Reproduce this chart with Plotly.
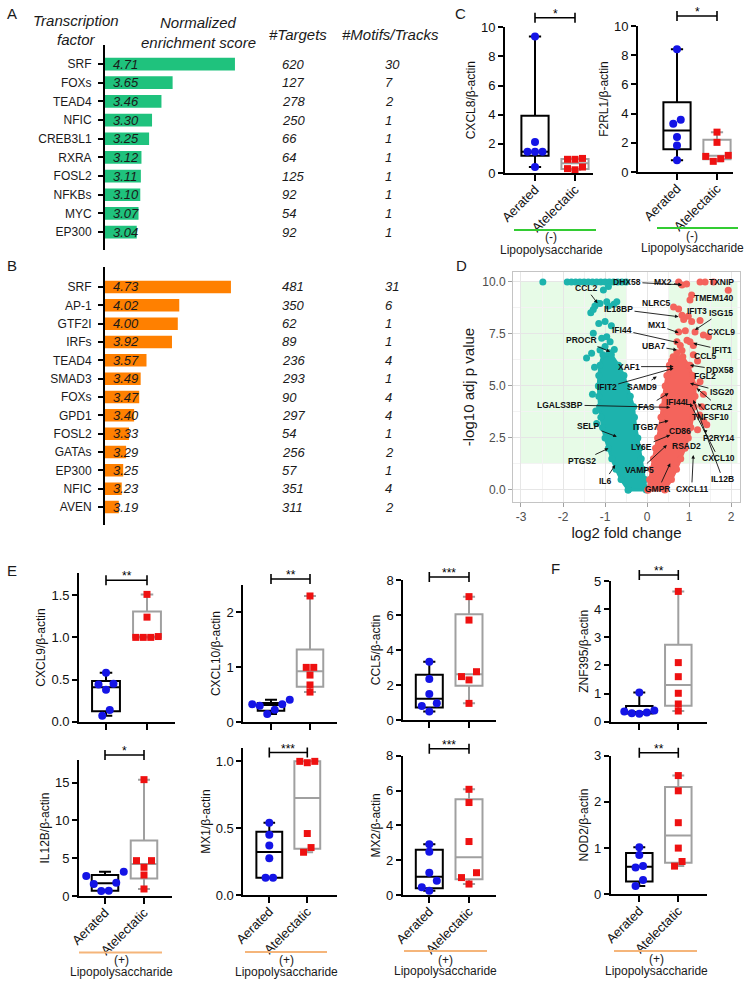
import plotly.graph_objects as go

W, H = 750, 982
FONT = "Arial, 'Liberation Sans', Helvetica, sans-serif"

# ---------------- Panel A / B data ----------------
A_TF = ["SRF", "FOXs", "TEAD4", "NFIC", "CREB3L1", "RXRA", "FOSL2", "NFKBs", "MYC", "EP300"]
A_NES = [4.71, 3.65, 3.46, 3.30, 3.25, 3.12, 3.11, 3.10, 3.07, 3.04]
A_TARGETS = [620, 127, 278, 250, 66, 64, 125, 92, 54, 92]
A_MOTIFS = [30, 7, 2, 1, 1, 1, 1, 1, 1, 1]

B_TF = ["SRF", "AP-1", "GTF2I", "IRFs", "TEAD4", "SMAD3", "FOXs", "GPD1", "FOSL2", "GATAs", "EP300", "NFIC", "AVEN"]
B_NES = [4.73, 4.02, 4.00, 3.92, 3.57, 3.49, 3.47, 3.40, 3.33, 3.29, 3.25, 3.23, 3.19]
B_TARGETS = [481, 350, 62, 89, 236, 293, 90, 297, 54, 256, 57, 351, 311]
B_MOTIFS = [31, 6, 1, 1, 4, 1, 4, 4, 1, 2, 1, 4, 2]

# ---------------- qPCR data (Aerated / Atelectatic) ----------------
GROUPS = ["Aerated", "Atelectatic"]
CXCL8_AER = [9.36, 2.13, 1.45, 1.45, 1.45, 0.41]
CXCL8_ATE = [1.00, 0.94, 0.94, 0.41, 0.30, 0.22]
F2RL1_AER = [8.40, 3.58, 3.30, 2.39, 1.82, 0.80]
F2RL1_ATE = [2.73, 2.03, 1.14, 1.07, 0.91, 0.73]
CXCL9_AER = [0.58, 0.45, 0.44, 0.38, 0.14, 0.07]
CXCL9_ATE = [1.51, 1.24, 1.01, 1.00, 1.00, 1.00]
CXCL10_AER = [0.41, 0.33, 0.33, 0.30, 0.23, 0.15]
CXCL10_ATE = [2.30, 1.00, 1.00, 0.86, 0.68, 0.55]
CCL5_AER = [3.33, 2.34, 1.49, 0.95, 0.80, 0.48]
CCL5_ATE = [7.05, 5.71, 2.76, 2.48, 2.29, 0.95]
ZNF395_AER = [1.04, 0.40, 0.36, 0.33, 0.30, 0.28]
ZNF395_ATE = [4.63, 2.10, 1.60, 1.01, 0.63, 0.38]
IL12B_AER = [3.20, 2.65, 1.77, 1.60, 0.71, 0.66]
IL12B_ATE = [15.4, 4.68, 4.68, 3.80, 2.78, 0.93]
MX1_AER = [0.54, 0.45, 0.37, 0.275, 0.13, 0.13]
MX1_ATE = [1.00, 1.00, 0.99, 0.46, 0.355, 0.32]
MX2_AER = [2.91, 2.49, 1.28, 0.82, 0.44, 0.25]
MX2_ATE = [6.07, 5.31, 3.07, 1.28, 1.00, 0.63]
NOD2_AER = [1.02, 0.85, 0.61, 0.58, 0.31, 0.18]
NOD2_ATE = [2.57, 2.24, 1.55, 1.00, 0.71, 0.61]

# ---------------- Volcano data ----------------
CYAN_BAND_Y = [0.0, 0.5, 1.0, 1.5, 2.0, 2.5, 3.0, 3.5, 4.0, 4.5, 5.0, 5.5, 6.0, 6.5]
CYAN_BAND_XMIN = [-0.45, -0.62, -0.74, -0.84, -0.92, -1.0, -1.06, -1.1, -1.13, -1.15, -1.16, -1.15, -1.12, -1.05]
CYAN_BAND_XMAX = [-0.02, -0.05, -0.10, -0.14, -0.18, -0.22, -0.27, -0.30, -0.32, -0.40, -0.48, -0.55, -0.68, -0.85]
RED_BAND_Y = [0.0, 0.5, 1.0, 1.5, 2.0, 2.5, 3.0, 3.5, 4.0, 4.5, 5.0, 5.5, 6.0, 6.4]
RED_BAND_XMIN = [0.02, 0.06, 0.10, 0.15, 0.20, 0.25, 0.30, 0.33, 0.36, 0.40, 0.43, 0.47, 0.53, 0.62]
RED_BAND_XMAX = [0.42, 0.58, 0.70, 0.80, 0.90, 0.98, 1.04, 1.08, 1.12, 1.14, 1.14, 1.08, 0.98, 0.85]
CYAN_SCATTER = [(-2.48, 10), (-1.9, 10), (-1.8, 10), (-1.7, 10), (-1.6, 10), (-1.5, 10), (-1.4, 10),
                (-1.3, 10), (-1.2, 10), (-1.1, 10), (-1.0, 10), (-0.9, 10), (-0.8, 10), (-0.7, 10),
                (-0.6, 10), (-0.5, 10),
                (-1.04, 9.62), (-0.92, 9.78), (-1.34, 8.52), (-1.28, 8.68), (-1.24, 8.85), (-1.18, 8.98),
                (-1.12, 8.97), (-0.96, 9.05), (-0.92, 8.85), (-0.79, 8.93), (-0.72, 9.05),
                (-1.15, 8.0), (-1.0, 8.1), (-0.85, 7.9), (-1.28, 7.53), (-1.08, 7.29), (-0.96, 7.37),
                (-0.88, 7.13), (-1.32, 6.57), (-1.44, 6.34), (-1.12, 6.73), (-1.0, 6.9), (-0.9, 6.6),
                (-0.78, 6.75), (-1.25, 5.9), (-1.3, 4.6), (-1.22, 3.8), (-1.2, 3.2)]
RED_SCATTER = [(0.75, 10.0), (0.83, 9.86), (0.94, 9.9), (1.26, 10.0), (1.38, 10.0), (1.58, 10.0), (1.93, 9.6),
               (1.06, 9.37), (1.02, 9.13), (0.63, 8.8), (0.75, 8.7), (0.83, 8.4), (0.98, 8.35), (0.87, 8.2),
               (1.06, 8.1), (1.26, 8.15), (0.75, 7.6), (0.91, 7.65), (1.14, 7.6), (1.34, 7.45), (1.46, 7.37),
               (0.71, 7.13), (0.79, 6.95), (0.95, 7.2), (1.02, 7.13), (1.1, 6.95), (0.71, 6.6), (0.83, 6.7),
               (1.1, 6.5), (0.58, 6.2), (0.67, 6.1), (0.79, 6.3), (1.02, 6.0), (1.2, 6.2), (1.26, 5.2),
               (1.34, 4.6), (1.3, 4.0), (1.42, 3.13), (1.35, 3.3), (1.25, 3.6), (1.2, 2.9)]
# label, text x, text y, arrow target x, arrow target y
VOLCANO_LABELS = [
    ("DHX58", -0.48, 10.0, 0.83, 9.86), ("MX2", 0.39, 10.0, 0.83, 9.86), ("TXNIP", 1.76, 10.0, None, None),
    ("CCL2", -1.45, 9.70, -1.18, 8.98), ("TMEM140", 1.58, 9.21, None, None),
    ("IL18BP", -0.68, 8.69, 0.75, 8.33), ("NLRC5", 0.23, 9.01, 0.63, 8.81), ("IFIT3", 1.18, 8.62, None, None),
    ("ISG15", 1.76, 8.53, 1.14, 7.69), ("MX1", 0.23, 7.93, 0.75, 7.56), ("CXCL9", 1.76, 7.61, None, None),
    ("IFI44", -0.6, 7.69, 0.75, 7.08), ("PROCR", -1.56, 7.21, -0.88, 6.65), ("UBA7", 0.15, 6.92, 0.71, 6.73),
    ("IFIT1", 1.78, 6.73, 1.1, 7.05), ("CCL5", 1.38, 6.44, None, None), ("XAF1", -0.44, 5.93, 0.63, 5.93),
    ("DDX58", 1.74, 5.77, 1.02, 6.0), ("FGL2", 1.38, 5.48, None, None), ("IFIT2", -0.96, 4.94, 0.63, 5.85),
    ("SAMD9", -0.13, 4.97, 0.23, 5.45), ("ISG20", 1.78, 4.73, 1.02, 5.13),
    ("LGALS3BP", -2.07, 4.09, 0.55, 3.97), ("FAS", -0.01, 4.01, 0.51, 4.65), ("IFI44L", 0.75, 4.25, None, None),
    ("CCRL2", 1.7, 4.0, 1.18, 4.89), ("TNFSF10", 1.5, 3.53, 1.21, 4.17), ("ITGB7", -0.05, 3.04, 0.51, 3.33),
    ("CD86", 0.79, 2.85, None, None), ("P2RY14", 1.7, 2.48, 1.34, 2.88), ("LY6E", -0.13, 2.08, 0.55, 2.64),
    ("RSAD2", 0.94, 2.12, None, None), ("SELP", -1.4, 3.08, -0.72, 2.56), ("CXCL10", 1.7, 1.52, 1.02, 4.17),
    ("PTGS2", -1.56, 1.39, -0.92, 2.0), ("VAMP5", -0.17, 0.96, 0.47, 2.16), ("IL6", -1.0, 0.45, -0.76, 1.2),
    ("IL12B", 1.8, 0.51, 1.1, 4.33), ("GMPR", 0.27, 0.05, 0.55, 1.28), ("CXCL11", 1.06, 0.05, 1.1, 1.68),
]

# ---------------- styles ----------------
GREEN_BAR = "#1fc27d"
ORANGE_BAR = "#ff8000"
BLUE = "#1414e6"
RED = "#ee1111"
GRAYBOX = "#a0a0a0"
CYAN = "#1db3ad"
SALMON = "#f4645c"
LPS_GREEN = "#33cc33"
LPS_ORANGE = "#f5b57a"


def X(px):
    return px / W


def Y(py):
    return 1 - py / H


fig = go.Figure()
ann = []
shp = []
lay = dict(width=W, height=H, margin=dict(l=0, r=0, t=0, b=0), template="none",
           paper_bgcolor="white", plot_bgcolor="white", showlegend=False,
           font=dict(family=FONT, size=12, color="#1a1a1a"))


def add_text(px, py, text, size=12, xanchor="center", yanchor="middle", color="#1a1a1a"):
    ann.append(dict(x=X(px), y=Y(py), xref="paper", yref="paper", text=text, showarrow=False,
                    xanchor=xanchor, yanchor=yanchor, font=dict(size=size, color=color, family=FONT)))


# ---------------- Panels A and B ----------------
def bar_panel(k, tfs, nes, targets, motifs, color, x0, ppu, top_py, bot_py, yrange):
    xs = "x" if k == 1 else f"x{k}"
    ys = "y" if k == 1 else f"y{k}"
    fig.add_trace(go.Bar(x=nes, y=tfs, orientation="h", marker=dict(color=color, line=dict(width=0)),
                         width=0.68, xaxis=xs, yaxis=ys, hoverinfo="skip"))
    lay["xaxis" if k == 1 else f"xaxis{k}"] = dict(domain=[X(105), X(265)], range=[x0, x0 + 160 / ppu],
                                                   anchor=ys, visible=False)
    lay["yaxis" if k == 1 else f"yaxis{k}"] = dict(
        domain=[Y(bot_py), Y(top_py)], anchor=xs, type="category", categoryarray=tfs, range=yrange,
        showline=True, linecolor="black", linewidth=2, ticks="outside", ticklen=5, tickwidth=1.5,
        tickcolor="black", tickfont=dict(size=12, color="#1a1a1a"), showgrid=False, zeroline=False,
        ticklabelstandoff=4)
    for tf, v, t, m in zip(tfs, nes, targets, motifs):
        ann.append(dict(x=x0, y=tf, xref=xs, yref=ys, text=f"<i>{v:.2f}</i>", showarrow=False,
                        xanchor="left", xshift=6, font=dict(size=13, color="#1a1a1a")))
        ann.append(dict(x=X(280), y=tf, xref="paper", yref=ys, text=f"<i>{t}</i>", showarrow=False,
                        xanchor="left", font=dict(size=13, color="#1a1a1a")))
        ann.append(dict(x=X(383), y=tf, xref="paper", yref=ys, text=f"<i>{m}</i>", showarrow=False,
                        xanchor="left", font=dict(size=13, color="#1a1a1a")))


bar_panel(1, A_TF, A_NES, A_TARGETS, A_MOTIFS, GREEN_BAR, 2.5, 58.8, 45, 250, [len(A_TF) - 0.04, -1.02])
bar_panel(2, B_TF, B_NES, B_TARGETS, B_MOTIFS, ORANGE_BAR, 3.0, 72.8, 267, 525, [len(B_TF) - 0.02, -1.09])

add_text(76, 21, "<i>Transcription</i>", 15)
add_text(76, 40, "<i>factor</i>", 15)
add_text(198, 23, "<i>Normalized</i>", 15)
add_text(198, 42, "<i>enrichment score</i>", 15)
add_text(298, 35, "<i>#Targets</i>", 15)
add_text(390, 35, "<i>#Motifs/Tracks</i>", 15)

for letter, px, py in [("A", 5, 13), ("B", 5, 266), ("C", 453, 13), ("D", 454, 265), ("E", 5, 570), ("F", 549, 568)]:
    add_text(px, py, letter, 15, xanchor="left")

# ---------------- Panel D: volcano ----------------
for xs_, ys_ in [(-3.0, -0.5), (0.5, 2.15)]:
    shp.append(dict(type="rect", xref="x3", yref="y3", x0=xs_, x1=ys_, y0=1.3, y1=10.0,
                    fillcolor="rgba(144,238,144,0.22)", line=dict(width=0), layer="below"))

for yy, xmin, xmax, col in [(CYAN_BAND_Y, CYAN_BAND_XMIN, CYAN_BAND_XMAX, CYAN),
                            (RED_BAND_Y, RED_BAND_XMIN, RED_BAND_XMAX, SALMON)]:
    px_ = list(xmin) + list(reversed(xmax)) + [xmin[0]]
    py_ = list(yy) + list(reversed(yy)) + [yy[0]]
    fig.add_trace(go.Scatter(x=px_, y=py_, fill="toself", fillcolor=col, mode="lines+markers",
                             line=dict(color=col, width=3), marker=dict(size=7, color=col),
                             xaxis="x3", yaxis="y3", hoverinfo="skip"))
for pts, col in [(CYAN_SCATTER, CYAN), (RED_SCATTER, SALMON)]:
    fig.add_trace(go.Scatter(x=[p[0] for p in pts], y=[p[1] for p in pts], mode="markers",
                             marker=dict(size=7, color=col), xaxis="x3", yaxis="y3", hoverinfo="skip",
                             cliponaxis=False))

for lab, tx, ty, ax_, ay_ in VOLCANO_LABELS:
    if ax_ is None:
        ann.append(dict(x=tx, y=ty, xref="x3", yref="y3", text=f"<b>{lab}</b>", showarrow=False,
                        font=dict(size=8.5, color="#111")))
    else:
        ann.append(dict(x=ax_, y=ay_, xref="x3", yref="y3", ax=tx, ay=ty, axref="x3", ayref="y3",
                        text=f"<b>{lab}</b>", showarrow=True, arrowhead=2, arrowsize=0.8, arrowwidth=0.9,
                        arrowcolor="#111", standoff=0, font=dict(size=8.5, color="#111")))

VX = [-3, -2, -1, 0, 1, 2]
VY = [0, 2.5, 5, 7.5, 10]
lay["xaxis3"] = dict(domain=[X(513), X(740)], range=[-3.19, 2.21], anchor="y3", showline=True, mirror=True,
                     linecolor="#c4c4c4", linewidth=1, showgrid=True, gridcolor="#e6e6e6", gridwidth=1,
                     minor=dict(showgrid=True, gridcolor="#f3f3f3", dtick=0.5, tick0=0),
                     tickvals=VX, ticktext=[f"{v:g}" for v in VX], ticks="outside", ticklen=4,
                     tickcolor="#a0a0a0", tickfont=dict(size=12, color="#4d4d4d"), zeroline=False,
                     title=dict(text="log2 fold change", font=dict(size=15, color="#1a1a1a"), standoff=3))
lay["yaxis3"] = dict(domain=[Y(502), Y(272)], range=[-0.58, 10.48], anchor="x3", showline=True, mirror=True,
                     linecolor="#c4c4c4", linewidth=1, showgrid=True, gridcolor="#e6e6e6", gridwidth=1,
                     minor=dict(showgrid=True, gridcolor="#f3f3f3", dtick=1.25, tick0=0),
                     tickvals=VY, ticktext=[f"{v:.1f}" for v in VY], ticks="outside", ticklen=4,
                     tickcolor="#a0a0a0", tickfont=dict(size=12, color="#4d4d4d"), zeroline=False,
                     title=dict(text="-log10 adj p value", font=dict(size=15, color="#1a1a1a"), standoff=3))


# ---------------- Box plots (C, E, F) ----------------
def qstats(vals):
    s = sorted(vals)
    n = len(s)

    def q(p):
        pos = (n + 1) * p
        lo = int(pos)
        fr = pos - lo
        if lo < 1:
            return s[0]
        if lo >= n:
            return s[-1]
        return s[lo - 1] + fr * (s[lo] - s[lo - 1])

    return s[0], q(0.25), q(0.5), q(0.75), s[-1]


def swarm(vals, yppu, xppu, gap_px=7.0, spread_px=7.5):
    idx = sorted(range(len(vals)), key=lambda i: vals[i])
    clusters = [[idx[0]]]
    for i in idx[1:]:
        if (vals[i] - vals[clusters[-1][-1]]) * yppu < gap_px:
            clusters[-1].append(i)
        else:
            clusters.append([i])
    offs = [0.0] * len(vals)
    for c in clusters:
        n = len(c)
        slots = sorted([k - (n - 1) / 2 for k in range(n)], key=lambda s: (abs(s), s))
        for i, s in zip(c, slots):
            offs[i] = s * spread_px / xppu
    return offs


# geometry: x_left, x_right, y_top, y_bottom, x_aerated, x_atelectatic (px)
BOX_PANELS = [
    dict(lbl="CXCL8/β-actin", aer=CXCL8_AER, ate=CXCL8_ATE, sig="*", top=10, dt=2, fmt="d",
         g=(505, 593, 27.3, 173, 535, 575), xl=True, br=9.5),
    dict(lbl="F2RL1/β-actin", aer=F2RL1_AER, ate=F2RL1_ATE, sig="*", top=10, dt=2, fmt="d",
         g=(638, 733, 26, 172, 677, 717), xl=True, br=10),
    dict(lbl="CXCL9/β-actin", aer=CXCL9_AER, ate=CXCL9_ATE, sig="**", top=1.76, dt=0.5, fmt=".1f",
         g=(79, 175, 573.3, 721.7, 106, 147), xl=False, br=-7),
    dict(lbl="CXCL10/β-actin", aer=CXCL10_AER, ate=CXCL10_ATE, sig="**", top=2.5, dt=1, fmt="d",
         g=(243.3, 336.7, 585, 722.3, 271, 310), xl=False, br=6),
    dict(lbl="CCL5/β-actin", aer=CCL5_AER, ate=CCL5_ATE, sig="***", top=8, dt=2, fmt="d",
         g=(403.3, 496, 580, 720, 429.3, 469), xl=False, br=3),
    dict(lbl="ZNF395/β-actin", aer=ZNF395_AER, ate=ZNF395_ATE, sig="**", top=5, dt=1, fmt="d",
         g=(610.7, 706.7, 581, 721.7, 639.3, 678.3), xl=False, br=6),
    dict(lbl="IL12B/β-actin", aer=IL12B_AER, ate=IL12B_ATE, sig="*", top=18, dt=5, fmt="d",
         g=(79, 171.7, 760, 896, 105, 144), xl=True, br=5),
    dict(lbl="MX1/β-actin", aer=MX1_AER, ate=MX1_ATE, sig="***", top=1.1, dt=0.5, fmt=".1f",
         g=(243.3, 336.7, 748, 895, 269.3, 307.3), xl=True, br=-4.5),
    dict(lbl="MX2/β-actin", aer=MX2_AER, ate=MX2_ATE, sig="***", top=8, dt=2, fmt="d",
         g=(402.7, 496, 755.7, 895, 429.3, 469), xl=True, br=7),
    dict(lbl="NOD2/β-actin", aer=NOD2_AER, ate=NOD2_ATE, sig="**", top=3, dt=1, fmt="d",
         g=(610.7, 706.7, 755.7, 894.3, 639.3, 678.3), xl=True, br=3),
]

for n, p in enumerate(BOX_PANELS, start=4):
    xl, xr, yt, yb, pA, pB = p["g"]
    unit = pB - pA
    yppu = (yb - yt) / p["top"]
    xa, ya = f"x{n}", f"y{n}"
    lay[f"xaxis{n}"] = dict(domain=[X(xl), X(xr)], range=[(xl - pA) / unit, (xr - pA) / unit], anchor=ya,
                            showline=True, linecolor="black", linewidth=1.8, ticks="outside", ticklen=6,
                            tickwidth=1.8, tickcolor="black", tickvals=[0, 1],
                            ticktext=GROUPS if p["xl"] else ["", ""], tickangle=-45,
                            ticklabelstandoff=-4,
                            tickfont=dict(size=13, color="#111"), showgrid=False, zeroline=False)
    lay[f"yaxis{n}"] = dict(domain=[Y(yb), Y(yt)], range=[0, p["top"]], anchor=xa, showline=True,
                            linecolor="black", linewidth=1.8, ticks="outside", ticklen=5, tickwidth=1.8,
                            tickcolor="black", dtick=p["dt"], tick0=0, tickformat=p["fmt"],
                            tickfont=dict(size=13, color="#111"), showgrid=False, zeroline=False,
                            title=dict(text=p["lbl"], font=dict(size=12, color="#111"), standoff=3))
    for gi, (vals, col) in enumerate([(p["aer"], "black"), (p["ate"], GRAYBOX)]):
        lo, q1, med, q3, hi = qstats(vals)
        fig.add_trace(go.Box(x=[gi], q1=[q1], median=[med], q3=[q3], lowerfence=[lo], upperfence=[hi],
                             width=0.68, whiskerwidth=0.45, line=dict(color=col, width=2),
                             fillcolor="rgba(0,0,0,0)", boxpoints=False, xaxis=xa, yaxis=ya, hoverinfo="skip"))
    for gi, (vals, sym, size, col) in enumerate([(p["aer"], "circle", 8, BLUE), (p["ate"], "square", 7, RED)]):
        offs = swarm(vals, yppu, unit)
        fig.add_trace(go.Scatter(x=[gi + o for o in offs], y=vals, mode="markers",
                                 marker=dict(symbol=sym, size=size, color=col, line=dict(width=0)),
                                 xaxis=xa, yaxis=ya, cliponaxis=False, hoverinfo="skip"))
    hpx = yb - yt
    yb_dom = 1 + p["br"] / hpx
    d = 5 / hpx
    ydr = f"y{n} domain"
    shp.append(dict(type="line", xref=xa, yref=ydr, x0=0, x1=1, y0=yb_dom, y1=yb_dom,
                    line=dict(color="black", width=1.6)))
    for xx in (0, 1):
        shp.append(dict(type="line", xref=xa, yref=ydr, x0=xx, x1=xx, y0=yb_dom - d, y1=yb_dom + d,
                        line=dict(color="black", width=1.6)))
    ann.append(dict(x=0.5, y=yb_dom, xref=xa, yref=ydr, text=p["sig"], showarrow=False, yanchor="bottom",
                    yshift=-5, font=dict(size=12, color="black")))

# Lipopolysaccharide group labels: colour, line x0, x1, line y, centre x, sign y, text y, sign (px)
LPS_GROUPS = [
    (LPS_GREEN, 514, 596, 230, 551, 237, 250, "(-)"),
    (LPS_GREEN, 657, 738, 228, 692, 236, 248, "(-)"),
    (LPS_ORANGE, 79, 162, 952.5, 121, 960, 972, "(+)"),
    (LPS_ORANGE, 245, 327, 952, 286, 960, 971.5, "(+)"),
    (LPS_ORANGE, 404, 487, 951, 445, 959.5, 971, "(+)"),
    (LPS_ORANGE, 614, 697, 951, 656, 959, 970.5, "(+)"),
]
for col, x0, x1, yl, cx, ys, yt_, sign in LPS_GROUPS:
    shp.append(dict(type="line", xref="paper", yref="paper", x0=X(x0), x1=X(x1), y0=Y(yl), y1=Y(yl),
                    line=dict(color=col, width=2.2)))
    add_text(cx, ys, sign, 12)
    add_text(cx, yt_, "Lipopolysaccharide", 12)

lay["annotations"] = ann
lay["shapes"] = shp
fig.update_layout(**lay)
fig.write_html("out.html", config={"displayModeBar": False},
               post_script="document.body.style.margin='0px';document.body.style.overflow='hidden';")
